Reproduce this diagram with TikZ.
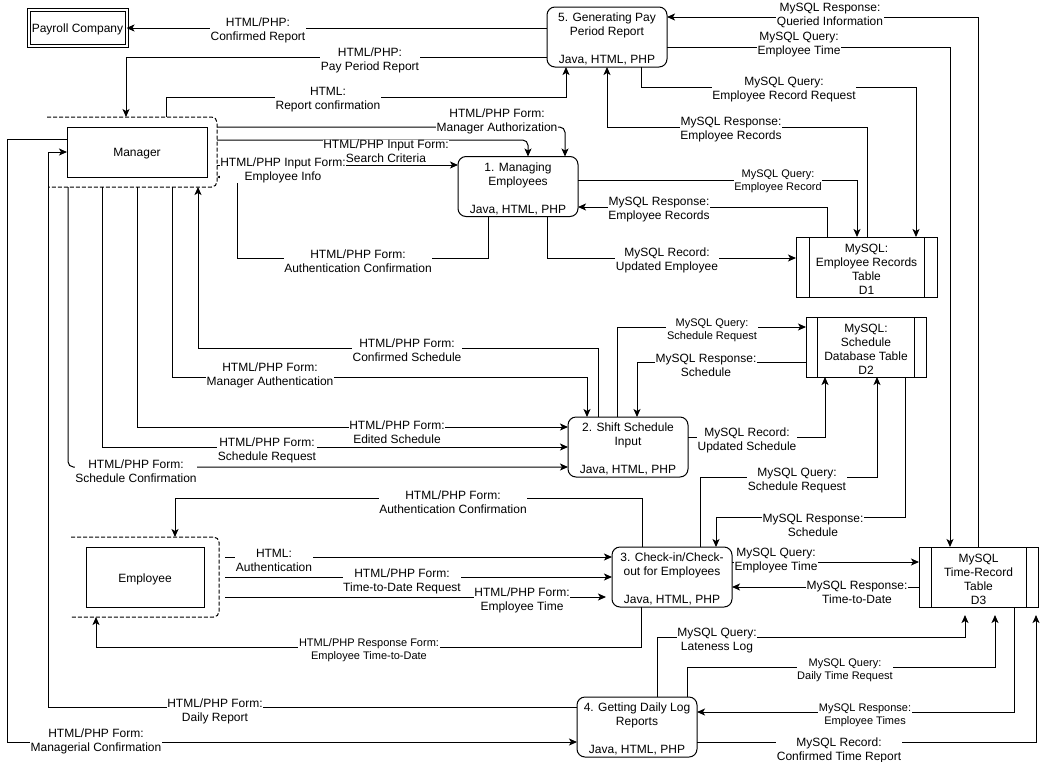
\documentclass[tikz,border=0pt]{standalone}
\usepackage{fontspec}
\setmainfont{Liberation Sans}
\usetikzlibrary{arrows.meta,calc}
\begin{document}
\begin{tikzpicture}[x=0.75pt,y=-0.75pt,
  font=\fontsize{9}{10.5}\selectfont,
  every node/.style={inner sep=0pt, outer sep=0pt},
  conn/.style={draw=black, line width=0.75pt},
  arr/.style={conn, -{Stealth[length=6pt,width=5.25pt,inset=1.5pt]}},
  lbl/.style={fill=white, align=center, inner xsep=0.5pt, inner ysep=0pt, yshift=-1.5pt, font=\fontsize{9}{10.5}\selectfont},
  slbl/.style={lbl, font=\fontsize{8.25}{9.75}\selectfont},
  txt/.style={align=center},
  proc/.style={draw, line width=0.75pt, rounded corners=6pt, minimum width=90pt, minimum height=45pt},
  ent/.style={draw, line width=0.75pt},
  store/.style={draw, line width=0.75pt, minimum height=45pt},
  bnd/.style={conn, dash pattern=on 3pt off 1.5pt, rounded corners=4pt},
]
\useasboundingbox (0,0) rectangle (1046,761);
\fill[white] (0,0) rectangle (1046,761);

% ---------- shapes ----------
\node[ent, minimum width=73.5pt, minimum height=27pt, double, double distance=1.5pt] (pay) at (77.5,27.5) {};
\node[txt] (payt) at ([yshift=-1.5pt]pay.center) {Payroll Company};

\node[proc] (P5) at (607,37) {};
\node[txt] (P5t) at ([yshift=-1.5pt]P5.center) {5. Generating Pay\\Period Report\\[10.5pt]Java, HTML, PHP};
\node[proc] (P1) at (518,186.5) {};
\node[txt] (P1t) at ([yshift=-1.5pt]P1.center) {1. Managing\\Employees\\[10.5pt]Java, HTML, PHP};
\node[proc] (P2) at (628,447) {};
\node[txt] (P2t) at ([yshift=-1.5pt]P2.center) {2. Shift Schedule\\Input\\[10.5pt]Java, HTML, PHP};
\node[proc] (P3) at (672,577) {};
\node[txt] (P3t) at ([yshift=-1.5pt]P3.center) {3. Check-in/Check-\\out for Employees\\[10.5pt]Java, HTML, PHP};
\node[proc] (P4) at (637,727) {};
\node[txt] (P4t) at ([yshift=-1.5pt]P4.center) {4. Getting Daily Log\\Reports\\[10.5pt]Java, HTML, PHP};

\node[ent, minimum width=105pt, minimum height=37.5pt] (mgr) at (137,152) {};
\node[txt] (mgrt) at ([yshift=-1.5pt]mgr.center) {Manager};
\node[minimum width=127.5pt, minimum height=52.5pt] (mgrb) at (132,152) {};
\draw[bnd] (mgrb.north west) -| (mgrb.south east) -- ([xshift=1.5pt]mgrb.south west);

\node[ent, minimum width=88.5pt, minimum height=45pt] (emp) at (145,577) {};
\node[txt] (empt) at ([yshift=-1.5pt]emp.center) {Employee};
\node[minimum width=111pt, minimum height=60pt] (empb) at (145,577) {};
\draw[bnd] (empb.north west) -| (empb.south east) -- (empb.south west);

\node[store, minimum width=105.75pt] (D1) at (866.5,267) {};
\node[txt] (D1t) at ([yshift=-1.5pt]D1.center) {MySQL:\\Employee Records\\Table\\D1};
\draw[conn] ([xshift=9.75pt]D1.north west) -- ([xshift=9.75pt]D1.south west);
\draw[conn] ([xshift=-9.75pt]D1.north east) -- ([xshift=-9.75pt]D1.south east);

\node[store, minimum width=90pt] (D2) at (866,347) {};
\node[txt] (D2t) at ([yshift=-1.5pt]D2.center) {MySQL:\\Schedule\\Database Table\\D2};
\draw[conn] ([xshift=8.5pt]D2.north west) -- ([xshift=8.5pt]D2.south west);
\draw[conn] ([xshift=-9pt]D2.north east) -- ([xshift=-9pt]D2.south east);

\node[store, minimum width=89.25pt] (D3) at (978.5,577) {};
\node[txt] (D3t) at ([yshift=-1.5pt]D3.center) {MySQL\\Time-Record\\Table\\D3};
\draw[conn] ([xshift=9pt]D3.north west) -- ([xshift=9pt]D3.south west);
\draw[conn] ([xshift=-9pt]D3.north east) -- ([xshift=-9pt]D3.south east);

% ---------- connectors ----------
% process 5
\draw[arr] (P5.west |- 0,28) -- (pay.east |- 0,28);
\draw[arr] (P5.west |- 0,57) -| (mgrb.north -| 126,0);
\draw[arr] (mgrb.north -| 166,0) |- (566,97) -- (P5.south -| 566,0);
\draw[arr] (P5.south -| 641,0) |- (916,87) -- (D1.north -| 916,0);
\draw[arr] (D1.north -| 867,0) |- (607,127) -- (P5.south -| 607,0);
\draw[arr] (P5.east |- 0,47) -| (D3.north -| 950,0);
\draw[arr] (D3.north -| 978,0) |- (P5.east |- 0,17);

% process 1
\draw[arr, rounded corners=4pt] (mgrb.east |- 0,127) -| (P1.north -| 565,0);
\draw[arr, rounded corners=4pt] (mgrb.east |- 0,140) -| (P1.north -| 528,0);
\draw[arr] (mgrb.east |- 0,165) -- (P1.west |- 0,165);
\draw[arr] (P1.south -| 488,0) |- (237,258) |- (mgrb.east |- 0,177);
\draw[arr] (P1.east |- 0,180) -| (D1.north -| 857,0);
\draw[arr] (D1.north -| 827,0) |- (P1.east |- 0,207);
\draw[arr] (P1.south -| 547,0) |- (D1.west |- 0,258);

% process 2
\draw[arr] (P2.north -| 598,0) |- (198,348) -- (mgrb.south -| 198,0);
\draw[arr] (mgrb.south -| 172,0) |- (587,377) -- (P2.north -| 587,0);
\draw[arr] (mgrb.south -| 137,0) |- (P2.west |- 0,427);
\draw[arr] (mgrb.south -| 102,0) |- (P2.west |- 0,447);
\draw[arr, rounded corners=4pt] (mgrb.south -| 68,0) |- (P2.west |- 0,467);
\draw[arr] (P2.north -| 617,0) |- (D2.west |- 0,327);
\draw[arr] (D2.west |- 0,362) -| (P2.north -| 637,0);
\draw[arr] (P2.east |- 0,437) -| (D2.south -| 825,0);

% process 3
\draw[arr] (P3.north -| 700,0) |- (877,477) -- (D2.south -| 877,0);
\draw[arr] (D2.south -| 905,0) |- (716,517) -- (P3.north -| 716,0);
\draw[arr] (P3.north -| 642,0) |- (175,498) -- (empb.north -| 175,0);
\draw[arr, shorten <=4.5pt] (empb.east |- 0,557) -- (P3.west |- 0,557);
\draw[arr, shorten <=4.5pt] (empb.east |- 0,577) -- (P3.west |- 0,577);
\draw[arr, shorten <=4.5pt, shorten >=4.5pt] (empb.east |- 0,597) -- (P3.west |- 0,597);
\draw[arr] (P3.south -| 641,0) |- (96,647) -- (empb.south -| 96,0);
\draw[arr] (P3.east |- 0,562) -- (D3.west |- 0,562);
\draw[arr] (D3.west |- 0,587) -- (P3.east |- 0,587);

% process 4
\draw[arr, shorten >=6pt] (P4.north -| 657,0) |- (965,637) -- (D3.south -| 965,0);
\draw[arr, shorten >=6pt] (P4.north -| 687,0) |- (995,667) -- (D3.south -| 995,0);
\draw[arr] (D3.south -| 1014,0) |- (P4.east |- 0,712);
\draw[arr, shorten >=6pt] (P4.east |- 0,742) -| (D3.south -| 1036,0);
\draw[arr] (P4.west |- 0,707) -| (48,152) -- (mgr.west);
\draw[arr] (mgr.west |- 0,139) -| (7,742) -- (P4.west |- 0,742);

% ---------- labels ----------
\node[lbl] (l1) at (258,28) {HTML/PHP:\\Confirmed Report};
\node[lbl] (l2) at (370,58) {HTML/PHP:\\Pay Period Report};
\node[lbl] (l3) at (328,98) {HTML:\\Report confirmation};
\node[lbl] (l4) at (784,88) {MySQL Query:\\Employee Record Request};
\node[lbl] (l5) at (731,128) {MySQL Response:\\Employee Records};
\node[lbl] (l6) at (799,43) {MySQL Query:\\Employee Time};
\node[lbl] (l7) at (830,13) {MySQL Response:\\Queried Information};

\node[lbl] (l8) at (497,119) {HTML/PHP Form:\\Manager Authorization};
\node[lbl] (l9) at (386,149) {HTML/PHP Input Form:\\Search Criteria};
\node[lbl] (l10) at (283,168) {HTML/PHP Input Form:\\Employee Info};
\node[lbl] (l11) at (358,259) {HTML/PHP Form:\\Authentication Confirmation};
\node[slbl] (l12) at (778,179) {MySQL Query:\\Employee Record};
\node[lbl] (l13) at (659,208) {MySQL Response:\\Employee Records};
\node[lbl] (l14) at (667,258) {MySQL Record:\\Updated Employee};

\node[lbl] (l15) at (407,348) {HTML/PHP Form:\\Confirmed Schedule};
\node[lbl] (l16) at (270,373) {HTML/PHP Form:\\Manager Authentication};
\node[lbl] (l17) at (397,430) {HTML/PHP Form:\\Edited Schedule};
\node[lbl] (l18) at (267,448) {HTML/PHP Form:\\Schedule Request};
\node[lbl] (l19) at (136,469) {HTML/PHP Form:\\Schedule Confirmation};
\node[slbl] (l20) at (712,328) {MySQL Query:\\Schedule Request};
\node[lbl] (l21) at (706,363) {MySQL Response:\\Schedule};
\node[lbl] (l22) at (747,438) {MySQL Record:\\Updated Schedule};

\node[lbl] (l23) at (797,479) {MySQL Query:\\Schedule Request};
\node[lbl] (l24) at (813,523) {MySQL Response:\\Schedule};
\node[lbl] (l25) at (453,500) {HTML/PHP Form:\\Authentication Confirmation};
\node[lbl] (l26) at (274,558) {HTML:\\Authentication};
\node[lbl] (l27) at (402,579) {HTML/PHP Form:\\Time-to-Date Request};
\node[lbl] (l28) at (522,598) {HTML/PHP Form:\\Employee Time};
\node[slbl] (l29) at (369,648) {HTML/PHP Response Form:\\Employee Time-to-Date};
\node[lbl] (l30) at (776,559) {MySQL Query:\\Employee Time};
\node[lbl] (l31) at (857,590) {MySQL Response:\\Time-to-Date};

\node[lbl] (l32) at (717,639) {MySQL Query:\\Lateness Log};
\node[slbl] (l33) at (845,668) {MySQL Query:\\Daily Time Request};
\node[slbl] (l34) at (865,713) {MySQL Response:\\Employee Times};
\node[lbl] (l35) at (839,748) {MySQL Record:\\Confirmed Time Report};
\node[lbl] (l36) at (215,709) {HTML/PHP Form:\\Daily Report};
\node[lbl] (l37) at (96,739) {HTML/PHP Form:\\Managerial Confirmation};
\end{tikzpicture}
\end{document}
